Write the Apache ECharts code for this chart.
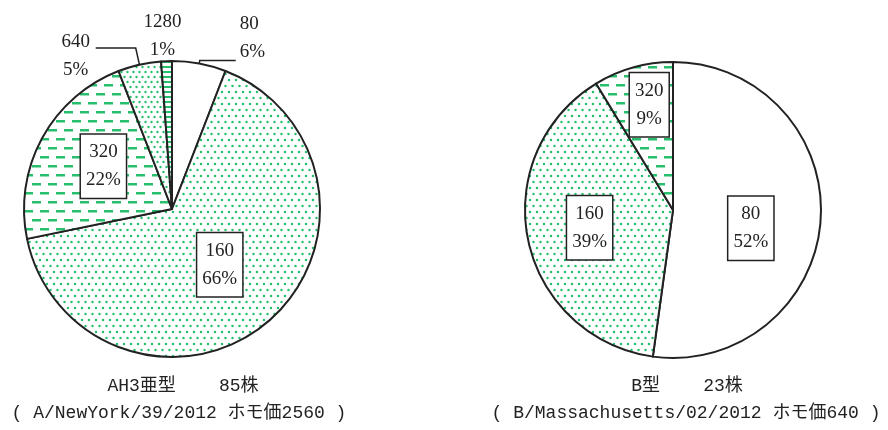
<!DOCTYPE html>
<html>
<head>
<meta charset="utf-8">
<script src="https://cdn.jsdelivr.net/npm/echarts@6/dist/echarts.min.js"></script>
<style>
  html, body { margin: 0; padding: 0; background: #fff; }
  #chart { width: 888px; height: 430px; }
</style>
</head>
<body>
<div id="chart"></div>
<script>
// HI titre distribution (number of strains per titre)
const leftTiters = ['80', '160', '320', '640', '1280'];
const leftCounts = [5, 56, 19, 4, 1];
const rightTiters = ['80', '160', '320'];
const rightCounts = [12, 9, 2];
const leftCaption = ['AH3亜型    85株', '( A/NewYork/39/2012 ホモ価2560 )'];
const rightCaption = ['B型    23株', '( B/Massachusetts/02/2012 ホモ価640 )'];

// ---- fill patterns ----
const GREEN = '#27bf6e';
function tile(w, h, draw) {
  const c = document.createElement('canvas');
  c.width = w; c.height = h;
  const g = c.getContext('2d');
  g.fillStyle = '#fff';
  g.fillRect(0, 0, w, h);
  g.fillStyle = GREEN;
  draw(g);
  return { image: c, repeat: 'repeat' };
}
function dot(g, x, y, r) { g.beginPath(); g.arc(x, y, r, 0, Math.PI * 2); g.fill(); }
const white = '#ffffff';
const dotsWide = tile(7, 12, g => { dot(g, 1.5, 2, 1.25); dot(g, 5, 8, 1.25); });
const dotsTight = tile(6, 10, g => { dot(g, 1.5, 2, 1.2); dot(g, 4.5, 7, 1.2); });
const dashes = tile(16, 18, g => {
  g.fillRect(0, 3, 9, 2.5);
  g.fillRect(8, 12, 8, 2.5);
  g.fillRect(0, 12, 1, 2.5);
});
const stripes = tile(4, 5, g => { g.fillRect(0, 1, 4, 2); });

const leftFills = [white, dotsWide, dashes, dotsTight, stripes];
const rightFills = [white, dotsWide, dashes];

// ---- label styles ----
const SERIF = '"Liberation Serif", "DejaVu Serif", serif';
const plainText = { fontFamily: SERIF, fontSize: 19, lineHeight: 28, color: '#222' };
const boxLabel = Object.assign({
  show: true,
  position: 'inside',
  formatter: '{b}\n{d}%',
  backgroundColor: '#fff',
  borderColor: '#222',
  borderWidth: 1.5,
  padding: [4, 5, 3, 5]
}, plainText);

const leftLabels = [
  Object.assign({ show: true, position: 'outside', formatter: '{t|{b}}\n{t|{d}%}',
    padding: [0, 0, 46, 0], distanceToLabelLine: 4,
    rich: { t: Object.assign({ align: 'left' }, plainText) } }, plainText),
  boxLabel,
  boxLabel,
  Object.assign({ show: true, position: 'outside', formatter: '{t|{b}}\n{t|{d}%}',
    padding: [16, 0, 0, 0], distanceToLabelLine: 3,
    rich: { t: Object.assign({ width: 34, align: 'center' }, plainText) } }, plainText),
  Object.assign({ show: true, position: 'outside', formatter: '{t|{b}}\n{t|{d}%}',
    rich: { t: Object.assign({ width: 42, align: 'center' }, plainText) } }, plainText)
];
const leftLines = [
  { show: true, length: 3, length2: 36 },
  { show: false },
  { show: false },
  { show: true, length: 17, length2: 40 },
  { show: false, length: 0, length2: 0 }
];
// fine placement of labels relative to the library's default spots
const leftShift = [{}, { dx: -2, dy: -3 }, { dx: -1, dy: -6 }, {}, { dx: 22, dy: -25 }];
const rightShift = [{ dx: 1, dy: 13 }, { dx: -8, dy: 2 }, { dx: -3, dy: -31 }];

const sliceStyle = { borderColor: '#222', borderWidth: 2 };

function pieSeries(names, counts, fills, labels, lines, shift, center) {
  return {
    type: 'pie',
    center: center,
    radius: 148,
    startAngle: 90,
    clockwise: true,
    percentPrecision: 0,
    avoidLabelOverlap: false,
    animation: false,
    silent: true,
    emphasis: { disabled: true },
    labelLine: { lineStyle: { color: '#222', width: 1.5 } },
    labelLayout: p => shift[p.dataIndex] || {},
    data: names.map((n, i) => ({
      name: n,
      value: counts[i],
      itemStyle: Object.assign({ color: fills[i] }, sliceStyle),
      label: labels[i],
      labelLine: lines[i]
    }))
  };
}

const chart = echarts.init(document.getElementById('chart'), null, { renderer: 'canvas' });
const CAPTION_FONT = '18px "Liberation Mono", "Noto Sans CJK JP", monospace';
function caption(text, x, y) {
  return { type: 'text', x: x, y: y, silent: true,
    style: { text: text, font: CAPTION_FONT, fill: '#222', align: 'center', verticalAlign: 'middle' } };
}

chart.setOption({
  backgroundColor: '#fff',
  series: [
    pieSeries(leftTiters, leftCounts, leftFills, leftLabels, leftLines, leftShift, [172, 209]),
    pieSeries(rightTiters, rightCounts, rightFills,
      [boxLabel, boxLabel, boxLabel], [{ show: false }, { show: false }, { show: false }],
      rightShift, [673, 210])
  ],
  graphic: [
    caption(leftCaption[0], 183, 386),
    caption(leftCaption[1], 179, 413),
    caption(rightCaption[0], 687, 386),
    caption(rightCaption[1], 686, 413)
  ]
});
</script>
</body>
</html>
